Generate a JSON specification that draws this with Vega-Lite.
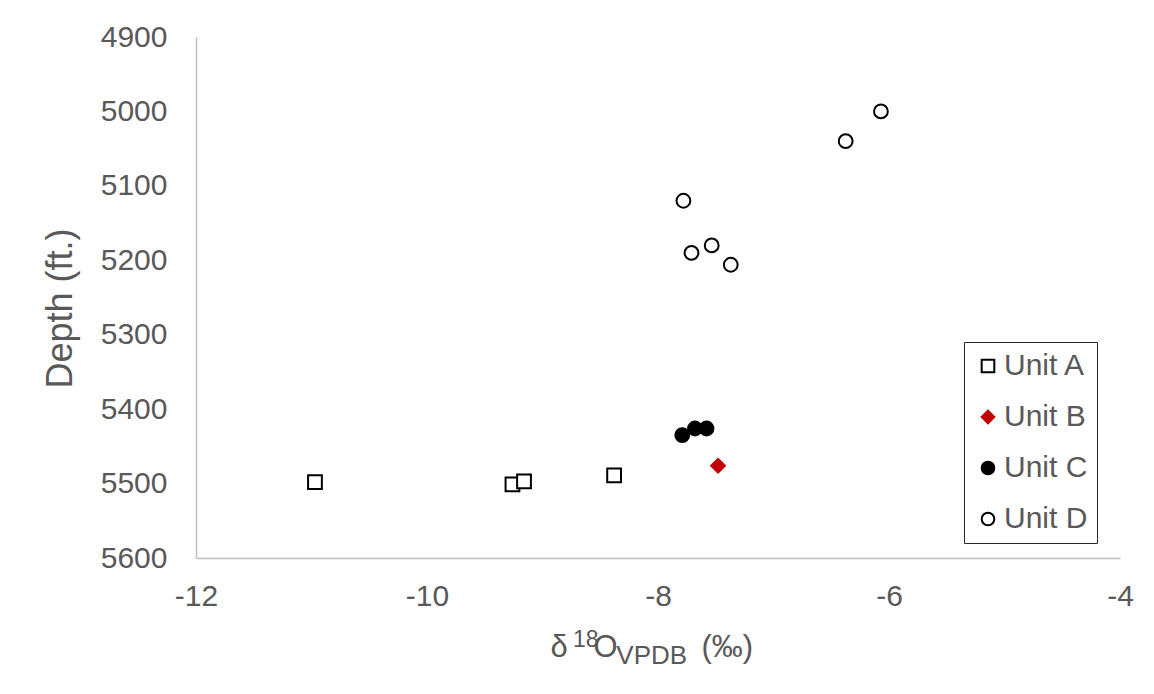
{
  "$schema": "https://vega.github.io/schema/vega-lite/v6.json",
  "width": 924,
  "height": 521,
  "autosize": {"type": "none"},
  "padding": {"left": 196, "top": 37, "right": 34, "bottom": 136},
  "background": "white",
  "config": {
    "view": {"stroke": null},
    "font": "Liberation Sans",
    "axis": {
      "grid": false,
      "ticks": false,
      "domainColor": "#BFBFBF",
      "domainWidth": 1.5,
      "labelColor": "#595959",
      "labelFont": "Liberation Sans",
      "labelFontSize": 30,
      "titleColor": "#595959",
      "titleFont": "Liberation Sans",
      "titleFontWeight": "normal"
    }
  },
  "title": {
    "text": "18",
    "subtitle": "\u200b\u00a0\u00a0\u00a0\u00a0\u00a0\u00a0VPDB",
    "orient": "bottom",
    "anchor": "start",
    "frame": "group",
    "fontSize": 23,
    "fontWeight": "normal",
    "color": "#595959",
    "font": "Liberation Sans",
    "subtitleFontSize": 26,
    "subtitleColor": "#595959",
    "subtitleFont": "Liberation Sans",
    "subtitlePadding": -9,
    "offset": 0,
    "dx": 377,
    "dy": -33
  },
  "data": {
    "values": [
      {"unit": "Unit A", "d18O": -10.97, "depth": 5498},
      {"unit": "Unit A", "d18O": -9.26, "depth": 5501},
      {"unit": "Unit A", "d18O": -9.16, "depth": 5497},
      {"unit": "Unit A", "d18O": -8.38, "depth": 5489},
      {"unit": "Unit B", "d18O": -7.48, "depth": 5476},
      {"unit": "Unit C", "d18O": -7.79, "depth": 5435},
      {"unit": "Unit C", "d18O": -7.68, "depth": 5426},
      {"unit": "Unit C", "d18O": -7.58, "depth": 5426},
      {"unit": "Unit D", "d18O": -6.07, "depth": 5000},
      {"unit": "Unit D", "d18O": -6.375, "depth": 5040},
      {"unit": "Unit D", "d18O": -7.78, "depth": 5120},
      {"unit": "Unit D", "d18O": -7.71, "depth": 5190},
      {"unit": "Unit D", "d18O": -7.535, "depth": 5180},
      {"unit": "Unit D", "d18O": -7.37, "depth": 5206}
    ]
  },
  "mark": {"type": "point", "filled": true, "size": 190, "strokeWidth": 2, "opacity": 1},
  "encoding": {
    "x": {
      "field": "d18O",
      "type": "quantitative",
      "scale": {"domain": [-12, -4], "nice": false, "zero": false},
      "axis": {
        "values": [-12, -10, -8, -6, -4],
        "labelExpr": "'' + datum.value",
        "labelPadding": 38,
        "labelBaseline": "middle",
        "labelFlush": false,
        "title": "δ\u00a0\u00a0\u00a0O\u00a0\u00a0\u00a0\u00a0\u00a0\u00a0\u00a0\u00a0\u00a0\u2009(‰)",
        "titleFontSize": 31,
        "titleAnchor": "start",
        "titleAlign": "left",
        "titleX": 354,
        "titleY": 98,
        "titleBaseline": "alphabetic"
      }
    },
    "y": {
      "field": "depth",
      "type": "quantitative",
      "scale": {"domain": [4900, 5600], "nice": false, "zero": false, "reverse": true},
      "axis": {
        "values": [4900, 5000, 5100, 5200, 5300, 5400, 5500, 5600],
        "labelPadding": 29,
        "labelFlush": false,
        "format": "d",
        "title": "Depth (ft.)",
        "titleFontSize": 36,
        "titleAngle": -90,
        "titleX": -136,
        "titleY": 271,
        "titleAlign": "center",
        "titleBaseline": "middle"
      }
    },
    "shape": {
      "field": "unit",
      "type": "nominal",
      "scale": {"domain": ["Unit A", "Unit B", "Unit C", "Unit D"], "range": ["square", "diamond", "circle", "circle"]},
      "legend": {
        "title": null,
        "orient": "none",
        "legendX": 768,
        "legendY": 305,
        "strokeColor": "#262626",
        "fillColor": "white",
        "padding": 9,
        "labelFontSize": 30,
        "labelColor": "#595959",
        "labelFont": "Liberation Sans",
        "symbolSize": 160,
        "symbolStrokeWidth": 2,
        "rowPadding": 21,
        "labelOffset": 1,
        "symbolOpacity": 1
      }
    },
    "fill": {
      "field": "unit",
      "type": "nominal",
      "scale": {"domain": ["Unit A", "Unit B", "Unit C", "Unit D"], "range": ["white", "#C00000", "black", "white"]}
    },
    "stroke": {
      "field": "unit",
      "type": "nominal",
      "scale": {"domain": ["Unit A", "Unit B", "Unit C", "Unit D"], "range": ["black", "#C00000", "black", "black"]}
    }
  }
}
